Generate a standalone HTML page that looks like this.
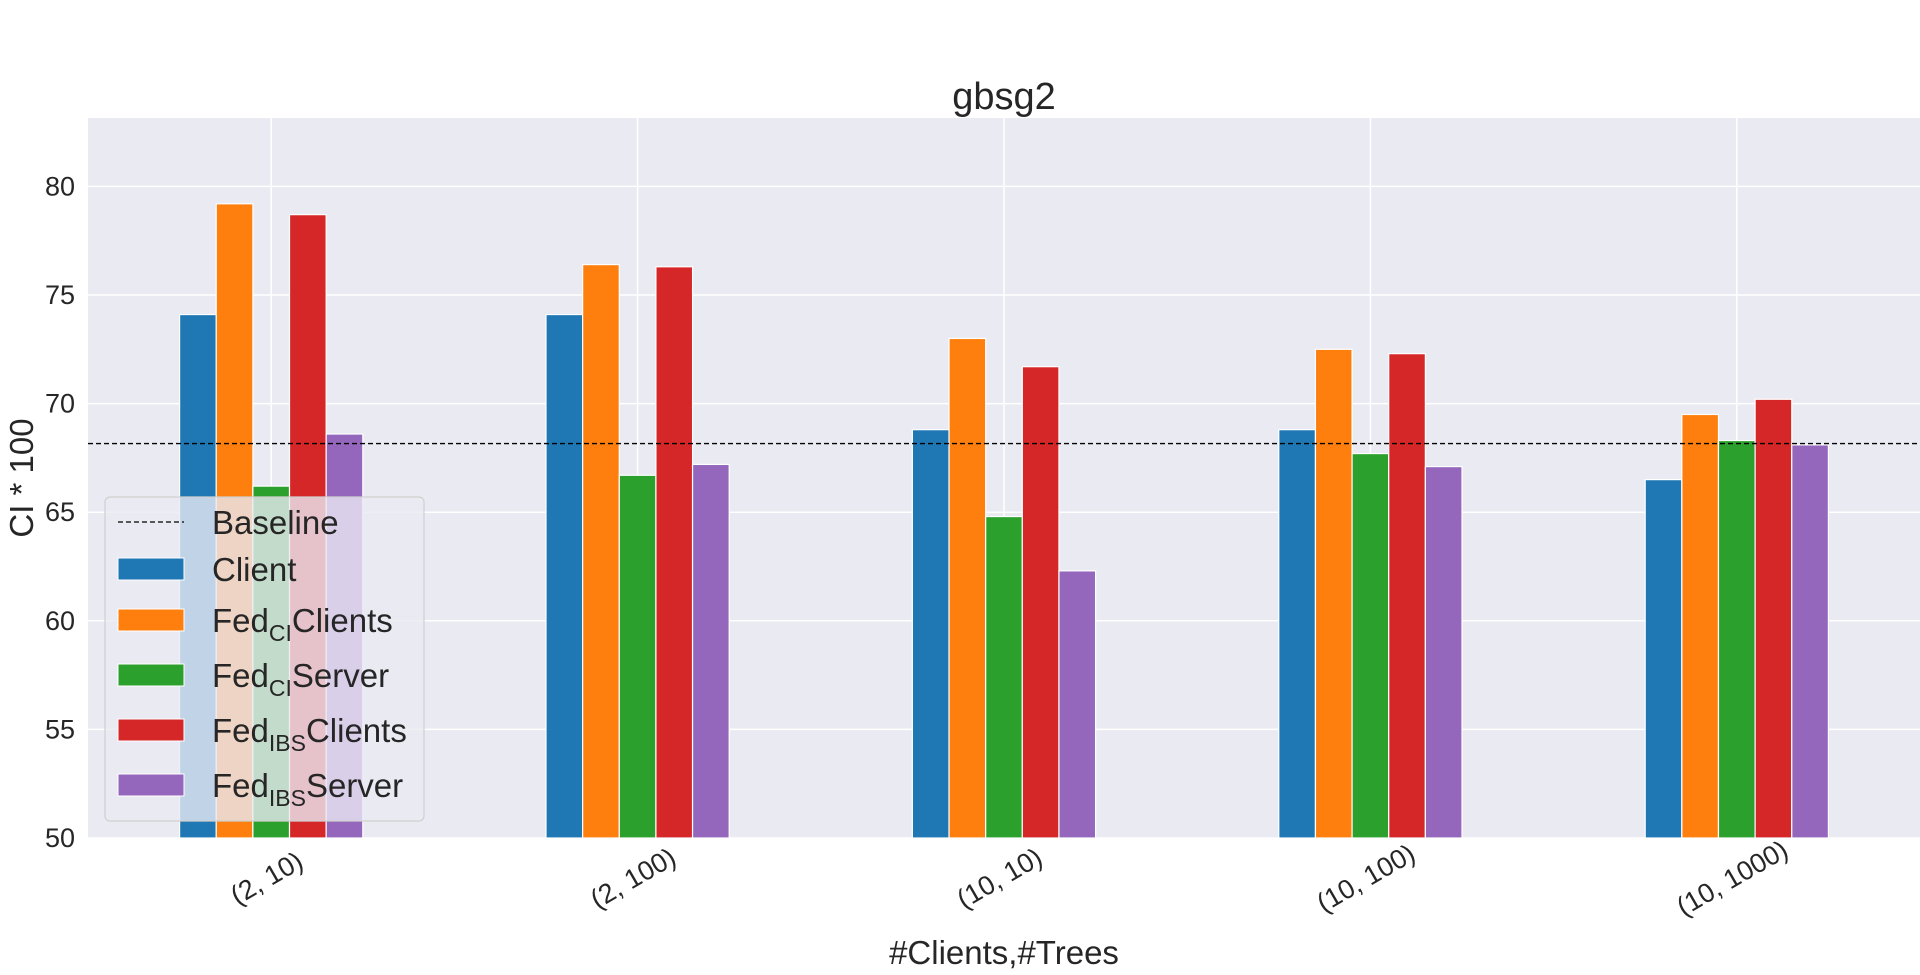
<!DOCTYPE html>
<html><head><meta charset="utf-8"><style>
html,body{margin:0;padding:0;background:#fff;}
svg{display:block;font-family:"Liberation Sans",Arial,sans-serif;}
</style></head><body>
<svg id="chart" width="1920" height="975" viewBox="0 0 1920 975">
<rect x="88" y="118" width="1832" height="720" fill="#eaeaf2"/>
<g id="grid"></g>
<g id="bars"></g>
<g id="axes"></g>
<text x="1004" y="109" font-size="38" text-anchor="middle" fill="#262626">gbsg2</text>
<text x="1004" y="964" font-size="33" text-anchor="middle" fill="#262626">#Clients,#Trees</text>
<text transform="translate(33,478) rotate(-90)" font-size="33" text-anchor="middle" fill="#262626">CI * 100</text>
<g id="legend"></g>
</svg>
<script>
const categories = ["(2, 10)", "(2, 100)", "(10, 10)", "(10, 100)", "(10, 1000)"];
const seriesNames = ["Client", "FedCIClients", "FedCIServer", "FedIBSClients", "FedIBSServer"];
const clientVals = [74.1, 74.1, 68.8, 68.8, 66.5];
const fedCIClientsVals = [79.2, 76.4, 73.0, 72.5, 69.5];
const fedCIServerVals = [66.2, 66.7, 64.8, 67.7, 68.3];
const fedIBSClientsVals = [78.7, 76.3, 71.7, 72.3, 70.2];
const fedIBSServerVals = [68.6, 67.2, 62.3, 67.1, 68.1];
const baselineVal = 68.16;
const yTicks = [50, 55, 60, 65, 70, 75, 80];

const series = [clientVals, fedCIClientsVals, fedCIServerVals, fedIBSClientsVals, fedIBSServerVals];
const colors = ["#1f77b4", "#ff7f0e", "#2ca02c", "#d62728", "#9467bd"];
const NS = "http://www.w3.org/2000/svg";
const L = 88, R = 1920, T = 118, B = 838;
const yMin = 50, yMax = 83.15;
function y(v){ return B - (v - yMin) / (yMax - yMin) * (B - T); }
function x(i){ return L + (i + 0.5) / categories.length * (R - L); }
const unit = (R - L) / categories.length;
function mk(tag, attrs, parent){ const e = document.createElementNS(NS, tag); for (const k in attrs) e.setAttribute(k, attrs[k]); parent.appendChild(e); return e; }
const grid = document.getElementById('grid'), bars = document.getElementById('bars'), axes = document.getElementById('axes');
yTicks.forEach(t => {
  const ln = mk('line', {x1: L, x2: R, y1: y(t), y2: y(t), stroke: '#fff', 'stroke-width': 1.5}, grid);
  
  
  const tx = mk('text', {x: L - 13, y: y(t) + 9, 'font-size': 27, 'text-anchor': 'end', fill: '#262626'}, axes);
  tx.textContent = t;
  
  
});
categories.forEach((c, i) => {
  const ln = mk('line', {x1: x(i), x2: x(i), y1: T, y2: B, stroke: '#fff', 'stroke-width': 1.5}, grid);
  
  
  const tx = mk('text', {transform: `translate(${x(i)},${B + 48}) rotate(-30)`, 'font-size': 27, 'text-anchor': 'middle', fill: '#262626'}, axes);
  tx.textContent = c;
  
  
});
const bw = unit * 0.1;
series.forEach((vals, s) => {
  vals.forEach((v, i) => {
    const cx = x(i) + (s - 2) * bw;
    const r = mk('rect', {x: cx - bw / 2, y: y(v), width: bw, height: B - y(v), fill: colors[s], stroke: '#fff', 'stroke-width': 1.2}, bars);
    
    
  });
});
const bl = mk('line', {x1: L, x2: R, y1: y(baselineVal), y2: y(baselineVal), stroke: '#000', 'stroke-width': 1.3, 'stroke-dasharray': '5,3'}, bars);



// legend
const lg = document.getElementById('legend');
mk('rect', {x: 105, y: 497, width: 319, height: 324, rx: 5, fill: '#eaeaf2', 'fill-opacity': 0.8, stroke: '#d0d0d0', 'stroke-width': 1.2}, lg);
const dl = mk('line', {x1: 118, x2: 184, y1: 522, y2: 522, stroke: '#000', 'stroke-width': 1.3, 'stroke-dasharray': '5,3'}, lg);


const rowsY = [522, 569, 620, 675, 730, 785];
const labels = [["Baseline"], ["Client"], ["Fed", "CI", "Clients"], ["Fed", "CI", "Server"], ["Fed", "IBS", "Clients"], ["Fed", "IBS", "Server"]];
labels.forEach((lb, k) => {
  const yy = rowsY[k];
  if (k > 0) {
    const sw = mk('rect', {x: 118, y: yy - 11, width: 66, height: 22, fill: colors[k - 1], stroke: '#fff', 'stroke-width': 1}, lg);
    
    
  }
  const t = mk('text', {x: 212, y: yy + 12, 'font-size': 33, fill: '#262626'}, lg);
  
  
  if (lb.length === 1) { t.textContent = lb[0]; }
  else {
    const a = document.createElementNS(NS, 'tspan'); a.textContent = lb[0]; t.appendChild(a);
    const b = document.createElementNS(NS, 'tspan'); b.setAttribute('font-size', '23'); b.setAttribute('dy', '9'); b.textContent = lb[1]; t.appendChild(b);
    const c = document.createElementNS(NS, 'tspan'); c.setAttribute('dy', '-9'); c.textContent = lb[2]; t.appendChild(c);
  }
});
</script>
</body></html>
